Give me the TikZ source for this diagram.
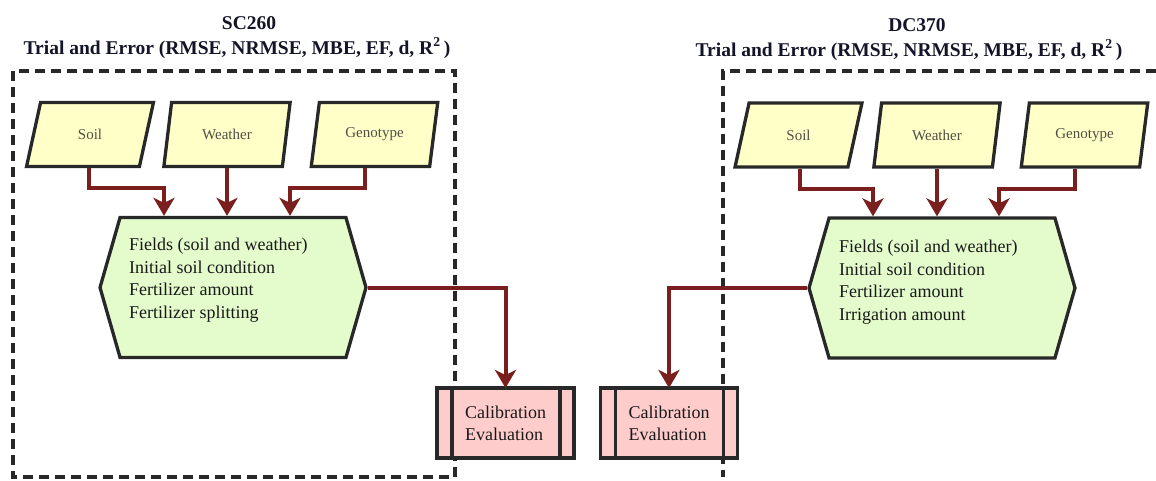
\documentclass[tikz,border=0pt]{standalone}
\usepackage{fontspec}
\setmainfont{Liberation Serif}
\usetikzlibrary{shapes.geometric,shapes.symbols,arrows.meta,calc}
\definecolor{parfill}{RGB}{255,255,200}
\definecolor{hexfill}{RGB}{228,252,204}
\definecolor{calfill}{RGB}{255,204,204}
\definecolor{arrc}{RGB}{122,30,30}
\definecolor{edgec}{RGB}{40,40,40}
\definecolor{titlec}{RGB}{20,20,40}
\definecolor{partext}{RGB}{80,80,70}
\definecolor{bodytext}{RGB}{25,25,25}
\tikzset{
  inbox/.style={trapezium, trapezium left angle=72, trapezium right angle=108,
    trapezium stretches=true, minimum width=127pt, minimum height=64pt, inner sep=0pt,
    fill=parfill, draw=edgec, line width=3.3pt, text=partext, font=\fontsize{15}{18}\selectfont},
  hexbox/.style={signal, signal to=west and east, signal pointer angle=148,
    minimum width=266pt, minimum height=140pt, inner sep=0pt,
    fill=hexfill, draw=edgec, line width=3.3pt},
  hextext/.style={anchor=west, align=left, inner sep=0pt, text=bodytext,
    font=\fontsize{18}{22.5}\selectfont},
  calbox/.style={rectangle, minimum width=137pt, minimum height=70pt, inner sep=0pt, outer sep=0pt,
    fill=calfill, draw=edgec, line width=3.3pt, align=left, text=bodytext,
    font=\fontsize{18}{22}\selectfont},
  calline/.style={draw=edgec, line width=3.3pt},
  arr/.style={draw=arrc, line width=4pt, -{Stealth[length=18pt,width=21pt,inset=5pt]}},
  groupbox/.style={draw=edgec, line width=3.2pt, dash pattern=on 10pt off 6pt},
  titletext/.style={text=titlec, inner sep=0pt, font=\fontsize{19.5}{22}\selectfont\bfseries},
}
\begin{document}
\begin{tikzpicture}[x=1pt,y=-1pt]
\useasboundingbox (0,0) rectangle (1156,481);

% group boxes
\draw[groupbox] (13,71) rectangle (455,477);
\draw[groupbox] (1156,71) -- (723,71) -- (723,477);

% titles
\node[titletext] (t1a) at (249,23) {SC260};
\node[titletext] (t1b) at (237,48) {Trial and Error (RMSE, NRMSE, MBE, EF, d, R\textsuperscript{2}\,)};
\node[titletext] (t2a) at (917,25) {DC370};
\node[titletext] (t2b) at (909,50) {Trial and Error (RMSE, NRMSE, MBE, EF, d, R\textsuperscript{2}\,)};

% left inputs
\node[inbox] (s1) at (90,134.5) {Soil};
\node[inbox] (w1) at (227,134.5) {Weather};
\node[inbox] (g1) at (374.5,134.5) {Genotype};
% right inputs
\node[inbox] (s2) at (798.5,135) {Soil};
\node[inbox] (w2) at (937,135) {Weather};
\node[inbox] (g2) at (1084.5,135) {Genotype};

% hexagons
\node[hexbox] (f1) at (233,287.5) {};
\node[hextext] (f1t) at (129,280) {Fields (soil and weather)\\Initial soil condition\\Fertilizer amount\\Fertilizer splitting};
\node[hexbox] (f2) at (942,288) {};
\node[hextext] (f2t) at (839,282) {Fields (soil and weather)\\Initial soil condition\\Fertilizer amount\\Irrigation amount};

% calibration boxes
\node[calbox] (c1) at (505.5,423) {Calibration\\Evaluation};
\draw[calline] ([xshift=15pt]c1.north west) -- ([xshift=15pt]c1.south west);
\draw[calline] ([xshift=-14pt]c1.north east) -- ([xshift=-14pt]c1.south east);
\node[calbox] (c2) at (669,423) {Calibration\\Evaluation};
\draw[calline] ([xshift=15pt]c2.north west) -- ([xshift=15pt]c2.south west);
\draw[calline] ([xshift=-14pt]c2.north east) -- ([xshift=-14pt]c2.south east);

% connectors left
\draw[arr] ([xshift=-1pt]s1.south) -- ++(0,20) -| ([xshift=-69pt]f1.north);
\draw[arr] (w1.south) -- (w1.south |- f1.north);
\draw[arr] ([xshift=-10pt]g1.south) -- ++(0,20) -| ([xshift=57pt]f1.north);
\draw[arr] (f1.east) -| (c1.north);
% connectors right
\draw[arr] ([xshift=1pt]s2.south) -- ++(0,20) -| ([xshift=-69pt]f2.north);
\draw[arr] (w2.south) -- (w2.south |- f2.north);
\draw[arr] ([xshift=-10pt]g2.south) -- ++(0,20) -| ([xshift=57pt]f2.north);
\draw[arr] (f2.west) -| (c2.north);
\end{tikzpicture}
\end{document}
